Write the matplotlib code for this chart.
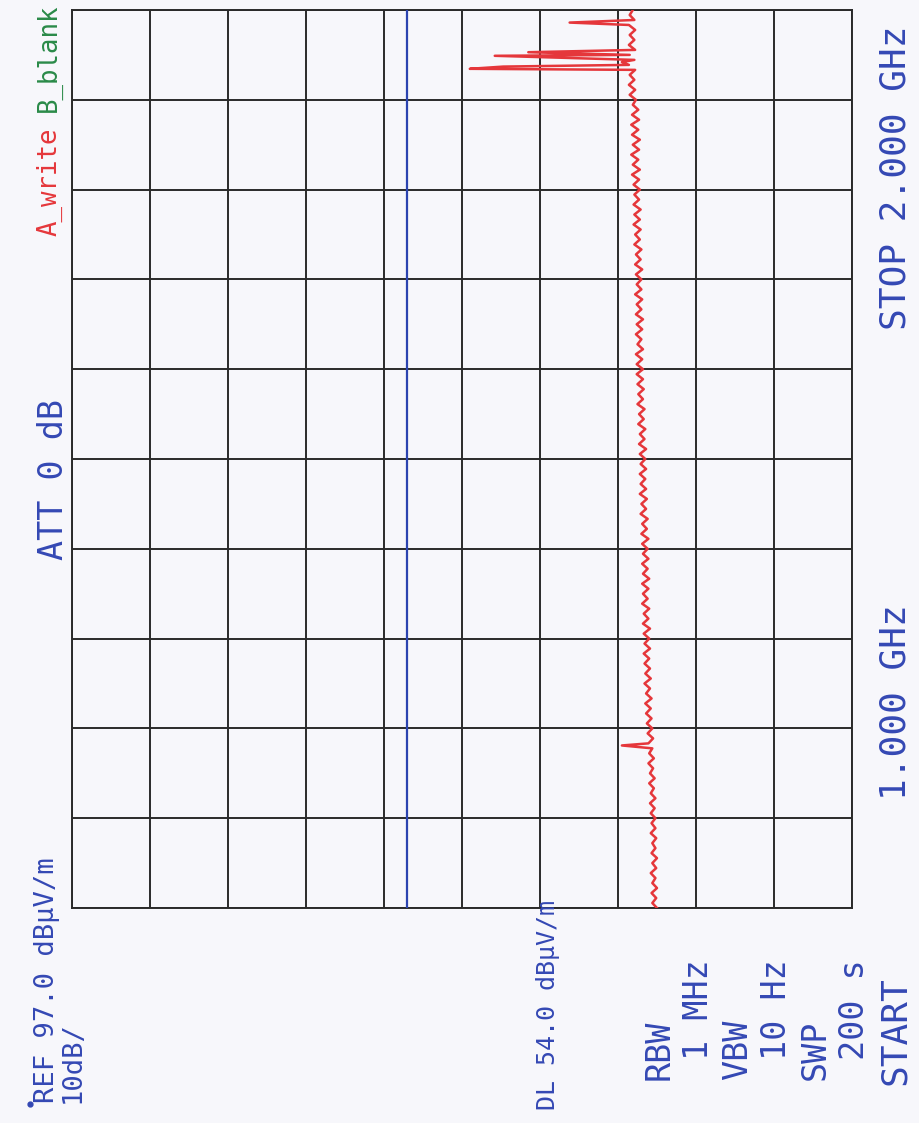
## spectrum analyzer plot, 1-2 GHz sweep, rotated on the page
import numpy as np
import matplotlib.pyplot as plt

ref_level = 97.0      # dBuV/m, left edge of the (rotated) screen
db_per_div = 10
display_line = 54.0   # DL
f_start, f_stop = 1.0, 2.0   # GHz

# noise floor, one row per frequency division (1.0 -> 2.0 GHz)
floor_level = [
    22.0, 22.6, 22.1, 22.7, 22.0, 22.6, 22.2, 22.8, 22.1, 22.6, 22.0, 22.7, 22.2, 22.6, 22.1, 22.8, 22.2, 22.7,
    22.2, 22.8, 22.3, 22.9, 22.2, 22.8, 22.4, 23.0, 22.3, 22.9, 22.5, 23.1, 22.4, 23.0, 22.6, 23.1, 22.5, 23.2,
    22.6, 23.3, 22.7, 23.4, 22.8, 23.5, 22.7, 23.4, 22.9, 23.6, 22.8, 23.5, 22.9, 23.6, 23.0, 23.7, 22.9, 23.6,
    23.0, 23.7, 22.9, 23.8, 23.1, 23.7, 23.0, 23.9, 23.2, 23.8, 23.1, 23.9, 23.0, 23.8, 23.2, 23.9, 23.1, 23.8,
    23.2, 23.9, 23.1, 24.0, 23.3, 23.9, 23.2, 24.1, 23.4, 24.0, 23.3, 24.2, 23.4, 24.1, 23.5, 24.2, 23.4, 24.1,
    23.5, 24.2, 23.4, 24.3, 23.6, 24.2, 23.5, 24.4, 23.7, 24.3, 23.6, 24.5, 23.8, 24.4, 23.7, 24.5, 23.8, 24.6,
    23.8, 24.6, 23.9, 24.7, 23.8, 24.5, 24.0, 24.7, 23.9, 24.6, 23.8, 24.7, 24.0, 24.6, 23.9, 24.8, 24.0, 24.6,
    24.0, 24.7, 23.9, 24.8, 24.1, 24.7, 24.0, 24.9, 24.2, 24.8, 24.1, 25.0, 24.2, 24.9, 24.1, 25.0, 24.3, 24.9,
    24.2, 25.0, 24.3, 25.2, 24.2, 25.1, 24.4, 25.3, 24.3, 25.1, 24.2, 25.2, 24.4, 25.3, 24.3, 25.2, 24.4, 25.1,
    24.7, 25.5, 24.8, 25.6, 24.9, 25.5, 24.8, 25.6, 24.9, 25.5, 24.8, 25.6, 24.9, 25.5, 24.8, 25.6, 24.9, 25.5,
    25.1,
]
# spurs sticking out of the floor
spike_freq = [1.181, 1.9345, 1.937, 1.942, 1.949, 1.953, 1.986]
spike_level = [26.5, 46.0, 41.7, 26.5, 42.8, 38.5, 33.2]

blue = '#3448b4'
red = '#e5373b'
green = '#2a8a48'
W, H = 919, 1123

freq = np.linspace(f_start, f_stop, len(floor_level))
all_f = np.concatenate([freq, spike_freq])
all_l = np.concatenate([floor_level, spike_level])
order = np.argsort(all_f, kind='stable')

fig = plt.figure(figsize=(W / 100, H / 100), dpi=100, facecolor='#f7f7fb')
ax = fig.add_axes([72 / W, 1 - 908 / H, 780 / W, 898 / H])
ax.set_facecolor('#f7f7fb')

bottom = ref_level - 10 * db_per_div
ax.set_xlim(ref_level, bottom)
ax.set_ylim(f_start, f_stop)
ax.set_xticks(np.arange(bottom, ref_level + 1, db_per_div))
ax.set_yticks(np.linspace(f_start, f_stop, 11))
ax.tick_params(length=0, labelbottom=False, labelleft=False)
ax.grid(True, color='#2a2a2a', lw=1.4)
for sp in ax.spines.values():
    sp.set_color('#2a2a2a')
    sp.set_linewidth(1.4)

ax.axvline(display_line, color='#2c44b0', lw=1.6, zorder=3)
ax.plot(all_l[order], all_f[order], color=red, lw=1.8, zorder=4,
        solid_joinstyle='round')


def label(x, y, s, size, color=blue):
    # x = baseline (px), y = where the text starts (px); text reads bottom to top
    fig.text(x / W, 1 - y / H, s, rotation=90, rotation_mode='anchor',
             ha='left', va='baseline', family='DejaVu Sans Mono',
             size=size, color=color)


label(54, 1103, 'REF 97.0 dB\u00b5V/m', 19.5)
label(80, 1103, '10dB/', 19.5)
label(63, 560, 'ATT 0 dB', 24)
label(56, 236, 'A_write', 18.5, red)
label(56, 112, 'B_blank', 18.5, green)
label(555, 1110, 'DL 54.0 dB\u00b5V/m', 18)
for i, s in enumerate(['RBW', ' 1 MHz', 'VBW', ' 10 Hz', 'SWP', ' 200 s']):
    label(669 + 39 * i, 1080, s, 24)
label(905, 330, 'STOP 2.000 GHz', 26)
label(905, 1085, 'START', 26)
label(905, 800, '1.000 GHz', 26)

# pen dot next to the REF line
fig.add_artist(plt.Line2D([30 / W], [1 - 1104 / H], marker='o', ms=3.5,
                          color=blue, lw=0))

fig.savefig('out.png', dpi=100, facecolor=fig.get_facecolor())
